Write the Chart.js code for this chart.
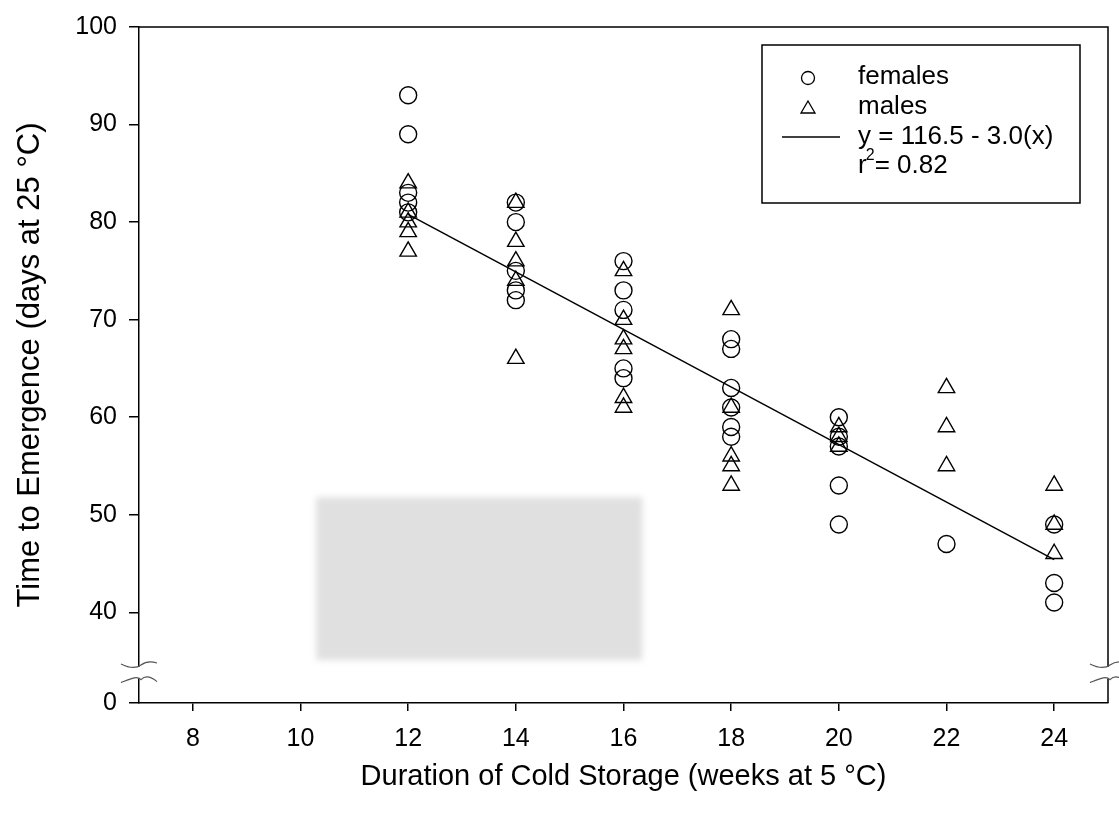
<!DOCTYPE html>
<html><head><meta charset="utf-8">
<script src="https://cdn.jsdelivr.net/npm/chart.js@4/dist/chart.umd.min.js"></script>
<style>html,body{margin:0;padding:0;background:#fff;overflow:hidden}#wrap{width:1119px;height:816px}</style>
</head><body><div id="wrap"><canvas id="c" width="1119" height="816"></canvas></div>
<script>
// ---- data ----
const femaleWeeks = [12,12,12,12,12, 14,14,14,14,14, 16,16,16,16,16, 18,18,18,18,18,18, 20,20,20,20,20, 22, 24,24,24];
const femaleDays  = [93,89,83,82,81, 82,80,75,73,72, 76,73,71,65,64, 68,67,63,61,59,58, 60,58,57,53,49, 47, 49,43,41];
const maleWeeks   = [12,12,12,12,12, 14,14,14,14,14, 16,16,16,16,16,16, 18,18,18,18,18, 20,20,20, 22,22,22, 24,24,24];
const maleDays    = [84,81,80,79,77, 82,78,76,74,66, 75,70,68,67,62,61, 71,61,56,55,53, 59,58,57, 63,59,55, 53,49,46];
const fitWeeks = [12, 24];
const fitDays  = [80.8, 45.4];
const xTicks = [8,10,12,14,16,18,20,22,24];
const yTickValues = [30.7,40,50,60,70,80,90,100];   // bottom of broken axis is labelled 0
const yTickLabels = ['0','40','50','60','70','80','90','100'];
const legendLabels = ['females','males','y = 116.5 - 3.0(x)','= 0.82'];

const FONT = "'Liberation Sans', Arial, Helvetica, sans-serif";
const pts = (xs, ys) => xs.map((x, i) => ({x: x, y: ys[i]}));

const extras = {
  id: 'extras',
  beforeDatasetsDraw(chart) {
    const {ctx, scales: {x, y}} = chart;
    // grey smudge in the original scan
    ctx.save();
    ctx.filter = 'blur(3px)';
    ctx.fillStyle = '#e0e0e0';
    const x0 = x.getPixelForValue(10.29), x1 = x.getPixelForValue(16.35);
    const y0 = y.getPixelForValue(51.8), y1 = y.getPixelForValue(35.1);
    ctx.fillRect(x0, y0, x1 - x0, y1 - y0);
    ctx.restore();
  },
  afterDraw(chart) {
    const {ctx, chartArea: a, scales: {x, y}} = chart;
    ctx.save();
    // frame top & right
    ctx.strokeStyle = '#000'; ctx.lineWidth = 1.5;
    ctx.beginPath();
    ctx.moveTo(a.left, a.top); ctx.lineTo(a.right, a.top); ctx.lineTo(a.right, a.bottom);
    ctx.stroke();
    // axis breaks
    const yb1 = y.getPixelForValue(34.6), yb2 = y.getPixelForValue(33.1);
    [a.left, a.right].forEach(px => {
      ctx.fillStyle = '#fff';
      ctx.fillRect(px - 3, yb1 + 2, 6, yb2 - yb1 - 3);
      ctx.strokeStyle = '#555'; ctx.lineWidth = 1.2;
      [yb1, yb2].forEach((yy, k) => {
        ctx.beginPath();
        ctx.moveTo(px - 18, yy + (k ? 3 : -1));
        ctx.bezierCurveTo(px - 8, yy + (k ? -1 : 4), px - 2, yy + (k ? -4 : 3), px + 2, yy);
        ctx.bezierCurveTo(px + 6, yy + (k ? -4 : -3), px + 12, yy + (k ? -3 : -4), px + 18, yy + (k ? 2 : -2));
        ctx.stroke();
      });
    });
    // legend
    const bx = 762, by = 45, bw = 318, bh = 158;
    ctx.fillStyle = '#fff';
    ctx.fillRect(bx, by, bw, bh);
    ctx.strokeStyle = '#000'; ctx.lineWidth = 1.5;
    ctx.strokeRect(bx, by, bw, bh);
    ctx.fillStyle = '#000';
    ctx.font = '26px ' + FONT;
    ctx.textBaseline = 'middle'; ctx.textAlign = 'left';
    const tx = 858;
    ctx.fillText(legendLabels[0], tx, 77);
    ctx.fillText(legendLabels[1], tx, 107);
    ctx.fillText(legendLabels[2], tx, 137);
    ctx.fillText('r', tx, 166);
    const rw = ctx.measureText('r').width;
    ctx.font = '16px ' + FONT;
    ctx.fillText('2', tx + rw - 1, 156);
    ctx.font = '26px ' + FONT;
    ctx.fillText(legendLabels[3], tx + rw + 8, 166);
    ctx.lineWidth = 1.3;
    ctx.beginPath(); ctx.arc(808, 78, 6.5, 0, Math.PI * 2); ctx.stroke();
    ctx.beginPath(); ctx.moveTo(808, 101); ctx.lineTo(815, 113); ctx.lineTo(801, 113); ctx.closePath(); ctx.stroke();
    ctx.lineWidth = 1.5;
    ctx.beginPath(); ctx.moveTo(782, 137); ctx.lineTo(840, 137); ctx.stroke();
    ctx.restore();
  }
};

new Chart(document.getElementById('c'), {
  type: 'scatter',
  data: {
    datasets: [
      {label: 'fit', type: 'line', data: pts(fitWeeks, fitDays), borderColor: '#000', borderWidth: 1.5,
       pointRadius: 0, fill: false, tension: 0, order: 0},
      {label: 'females', data: pts(femaleWeeks, femaleDays), pointStyle: 'circle', pointRadius: 8.5,
       borderColor: '#000', backgroundColor: 'rgba(0,0,0,0)', borderWidth: 1.4, order: 1},
      {label: 'males', data: pts(maleWeeks, maleDays), pointStyle: 'triangle', pointRadius: 9.5,
       borderColor: '#000', backgroundColor: 'rgba(0,0,0,0)', borderWidth: 1.4, order: 2}
    ]
  },
  options: {
    responsive: false, animation: false, devicePixelRatio: 1,
    layout: {padding: {top: 27, right: 11, left: 0, bottom: 0}},
    plugins: {legend: {display: false}, tooltip: {enabled: false}},
    scales: {
      x: {
        type: 'linear', min: 7, max: 25,
        afterBuildTicks: s => { s.ticks = xTicks.map(v => ({value: v})); },
        afterFit: s => { s.height = 113; },
        ticks: {color: '#000', font: {family: FONT, size: 25}, padding: 13, maxRotation: 0},
        grid: {drawOnChartArea: false, tickLength: 8, color: '#000', lineWidth: 1.5},
        border: {color: '#000', width: 1.5},
        title: {display: true, text: 'Duration of Cold Storage (weeks at 5 °C)', color: '#000',
                font: {family: FONT, size: 29}, padding: {top: 0, bottom: 22}}
      },
      y: {
        type: 'linear', min: 30.7, max: 100,
        afterBuildTicks: s => { s.ticks = yTickValues.map(v => ({value: v})); },
        afterFit: s => { s.width = 139; },
        ticks: {color: '#000', font: {family: FONT, size: 25}, padding: 12,
                callback: v => yTickLabels[yTickValues.indexOf(v)]},
        grid: {drawOnChartArea: false, tickLength: 10, color: '#000', lineWidth: 1.5},
        border: {color: '#000', width: 1.5},
        title: {display: true, text: 'Time to Emergence (days at 25 °C)', color: '#000',
                font: {family: FONT, size: 31}, padding: {top: 12, bottom: 0}}
      }
    }
  },
  plugins: [extras]
});
</script></body></html>
